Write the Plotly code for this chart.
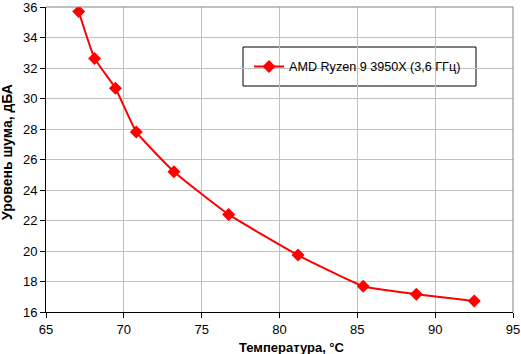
import plotly.graph_objects as go

temps = [67.1, 68.12, 69.46, 70.8, 73.22, 76.73, 81.19, 85.38, 88.79, 92.51]
noise = [35.7, 32.63, 30.68, 27.81, 25.2, 22.40, 19.73, 17.69, 17.17, 16.72]
series_name = "AMD Ryzen 9 3950X (3,6 ГГц)"
x_title = "Температура, °C"
y_title = "Уровень шума, дБА"

fig = go.Figure()
fig.add_trace(go.Scatter(
    x=temps, y=noise, mode="lines+markers", name=series_name,
    line=dict(color="#ff0000", width=2, shape="spline", smoothing=0.4),
    marker=dict(symbol="diamond", size=10, color="#ff0000"),
))

L, R, T, B = 46, 8, 7, 42
W, H = 521, 354
pw, ph = W - L - R, H - T - B

fig.update_layout(
    width=W, height=H,
    margin=dict(l=L, r=R, t=T, b=B),
    paper_bgcolor="white", plot_bgcolor="white",
    font=dict(family="Liberation Sans, Arial", size=13, color="black"),
    showlegend=True,
    legend=dict(
        x=(249 - L) / pw, y=(H - B - 66.7) / ph, xanchor="left", yanchor="middle",
        borderwidth=0, bgcolor="rgba(0,0,0,0)",
        font=dict(size=12.6), itemwidth=30,
    ),
    xaxis=dict(
        range=[65, 95], dtick=5, showgrid=True, gridcolor="#c0c0c0", gridwidth=1,
        showline=True, linecolor="black", linewidth=1, ticks="outside",
        ticklen=5, tickcolor="black", zeroline=False, ticklabeloverflow="allow",
        automargin=False,
    ),
    yaxis=dict(
        range=[16, 36], dtick=2, showgrid=True, gridcolor="#c0c0c0", gridwidth=1,
        showline=True, linecolor="black", linewidth=1, ticks="outside",
        ticklen=5, tickcolor="black", zeroline=False, ticklabeloverflow="allow",
        automargin=False,
    ),
)
# axis titles
fig.add_annotation(text="<b>" + x_title + "</b>", xref="paper", yref="paper",
                   x=(291.5 - L) / pw, y=0, xanchor="center", yanchor="middle",
                   yshift=-(347 - (H - B)), showarrow=False, font=dict(size=13))
fig.add_annotation(text="<b>" + y_title + "</b>", xref="paper", yref="paper",
                   x=0, y=(H - B - 152) / ph, xanchor="center", yanchor="middle",
                   xshift=7 - L, textangle=-90, showarrow=False, font=dict(size=14))
# gray plot-area frame on top and right
fig.add_shape(type="line", xref="paper", yref="paper", x0=1, x1=1, y0=0, y1=1,
              line=dict(color="#808080", width=1))
fig.add_shape(type="line", xref="paper", yref="paper", x0=0, x1=1, y0=1, y1=1,
              line=dict(color="#808080", width=1))
# legend box
fig.add_shape(type="rect", xref="paper", yref="paper",
              x0=(243 - L) / pw, x1=(476 - L) / pw,
              y0=(H - B - 86) / ph, y1=(H - B - 47) / ph,
              line=dict(color="black", width=1), fillcolor="white", layer="below")

fig.write_html("out.html")
